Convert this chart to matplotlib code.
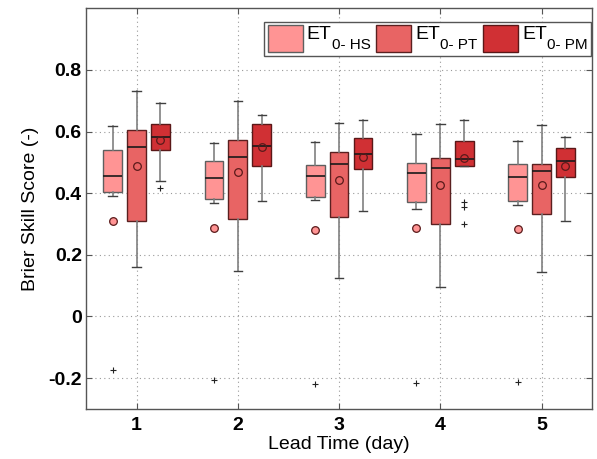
import matplotlib
matplotlib.use("Agg")
import matplotlib.pyplot as plt
from matplotlib.patches import Rectangle
from matplotlib.offsetbox import AnchoredOffsetbox, HPacker, VPacker, TextArea, DrawingArea

plt.rcParams['font.family'] = ['Liberation Sans', 'DejaVu Sans']

lead_days = [1, 2, 3, 4, 5]
series_names = ['HS', 'PT', 'PM']

# Box statistics per lead day: whisker low, Q1, median, Q3, whisker high, mean
hs_whislo = [0.392, 0.369, 0.377, 0.349, 0.363]
hs_q1     = [0.404, 0.380, 0.389, 0.370, 0.376]
hs_med    = [0.457, 0.449, 0.456, 0.466, 0.452]
hs_q3     = [0.541, 0.506, 0.492, 0.499, 0.496]
hs_whishi = [0.617, 0.563, 0.565, 0.592, 0.569]
hs_mean   = [0.310, 0.288, 0.282, 0.286, 0.283]
hs_fliers = [[-0.175], [-0.205], [-0.220], [-0.216], [-0.213]]

pt_whislo = [0.162, 0.146, 0.126, 0.095, 0.143]
pt_q1     = [0.310, 0.316, 0.324, 0.301, 0.332]
pt_med    = [0.549, 0.516, 0.496, 0.483, 0.473]
pt_q3     = [0.605, 0.572, 0.534, 0.514, 0.494]
pt_whishi = [0.732, 0.700, 0.628, 0.625, 0.622]
pt_mean   = [0.488, 0.470, 0.443, 0.428, 0.427]
pt_fliers = [[], [], [], [], []]

pm_whislo = [0.441, 0.376, 0.341, 0.487, 0.311]
pm_q1     = [0.541, 0.487, 0.480, 0.489, 0.452]
pm_med    = [0.582, 0.552, 0.528, 0.512, 0.504]
pm_q3     = [0.623, 0.625, 0.578, 0.568, 0.547]
pm_whishi = [0.692, 0.655, 0.639, 0.637, 0.583]
pm_mean   = [0.571, 0.549, 0.519, 0.515, 0.488]
pm_fliers = [[0.416], [], [], [0.371, 0.355, 0.301], []]

series = [
    (hs_whislo, hs_q1, hs_med, hs_q3, hs_whishi, hs_mean, hs_fliers),
    (pt_whislo, pt_q1, pt_med, pt_q3, pt_whishi, pt_mean, pt_fliers),
    (pm_whislo, pm_q1, pm_med, pm_q3, pm_whishi, pm_mean, pm_fliers),
]
face_colors = ['#FF9494', '#E86464', '#D03034']
edge_colors = ['#5f5f5f', '#5a2020', '#5a1818']
mean_faces = ['#FF9494', 'none', 'none']
offsets = [-0.236, 0.0, 0.236]
box_width = 0.185

fig = plt.figure(figsize=(5.97, 4.59), dpi=100)
ax = fig.add_axes([0.144, 0.109, 0.848, 0.873])

for s, (wlo, q1, med, q3, whi, mean, fl) in enumerate(series):
    stats = []
    for i in range(len(lead_days)):
        stats.append(dict(whislo=wlo[i], q1=q1[i], med=med[i], q3=q3[i],
                          whishi=whi[i], mean=mean[i], fliers=fl[i]))
    positions = [d + offsets[s] for d in lead_days]
    ax.bxp(stats, positions=positions, widths=box_width, showmeans=True,
           patch_artist=True, manage_ticks=False,
           boxprops=dict(facecolor=face_colors[s], edgecolor=edge_colors[s], linewidth=1.0),
           medianprops=dict(color='#1a1a1a', linewidth=1.2),
           whiskerprops=dict(color='#808080', linewidth=1.2, linestyle='-'),
           capprops=dict(color='#404040', linewidth=1.0),
           capwidths=box_width * 0.45,
           meanprops=dict(marker='o', markersize=5.5, markerfacecolor=mean_faces[s],
                          markeredgecolor='#5a1a1a', markeredgewidth=0.9),
           flierprops=dict(marker='+', markersize=4, markeredgecolor='#222222',
                           markeredgewidth=0.8))

ax.set_xlim(0.5, 5.5)
ax.set_ylim(-0.3, 1.0)
ax.set_xticks(lead_days)
ax.set_xticklabels([str(d) for d in lead_days])
ax.set_yticks([-0.2, 0, 0.2, 0.4, 0.6, 0.8])
ax.set_yticklabels(['-0.2', '0', '0.2', '0.4', '0.6', '0.8'])
ax.tick_params(axis='both', direction='in', length=4, width=0.8, labelsize=14,
               top=True, right=True, color='#555555')
ax.tick_params(axis='x', pad=6)
ax.tick_params(axis='y', pad=3)
for lab in ax.get_xticklabels() + ax.get_yticklabels():
    lab.set_fontweight('bold')
ax.grid(True, linestyle=(0, (1, 3)), color='#999999', linewidth=0.8)
ax.set_axisbelow(True)
for sp in ax.spines.values():
    sp.set_color('#555555')
    sp.set_linewidth(1.0)

ax.set_xlabel('Lead Time (day)', fontsize=14, labelpad=1)
ax.set_ylabel('Brier Skill Score (-)', fontsize=14, labelpad=7)

# Legend: colour swatch, "ET" and a lowered subscript naming the method
entries = []
for i, name in enumerate(series_names):
    swatch = DrawingArea(25.2, 19.4, 0, 0)
    swatch.add_artist(Rectangle((0, 0), 25.2, 19.4, facecolor=face_colors[i],
                                edgecolor=edge_colors[i], linewidth=1.0))
    main = VPacker(children=[TextArea('ET', textprops=dict(fontsize=14)),
                             DrawingArea(1, 6.5, 0, 0)], pad=0, sep=0, align='left')
    sub = TextArea('0- ' + name, textprops=dict(fontsize=11))
    label = HPacker(children=[main, sub], align='bottom', pad=0, sep=0)
    entries.append(HPacker(children=[swatch, label], align='center', pad=0, sep=3))
legend_row = HPacker(children=entries, align='center', pad=0, sep=4)
legend_box = AnchoredOffsetbox(loc='upper right', child=legend_row, pad=0.25,
                               borderpad=0, frameon=True,
                               bbox_to_anchor=(591 / 597, 1 - 22 / 459),
                               bbox_transform=fig.transFigure)
legend_box.patch.set_boxstyle('square', pad=0)
legend_box.patch.set_edgecolor('#555555')
legend_box.patch.set_linewidth(1.0)
ax.add_artist(legend_box)

fig.savefig('out.png', dpi=100)
